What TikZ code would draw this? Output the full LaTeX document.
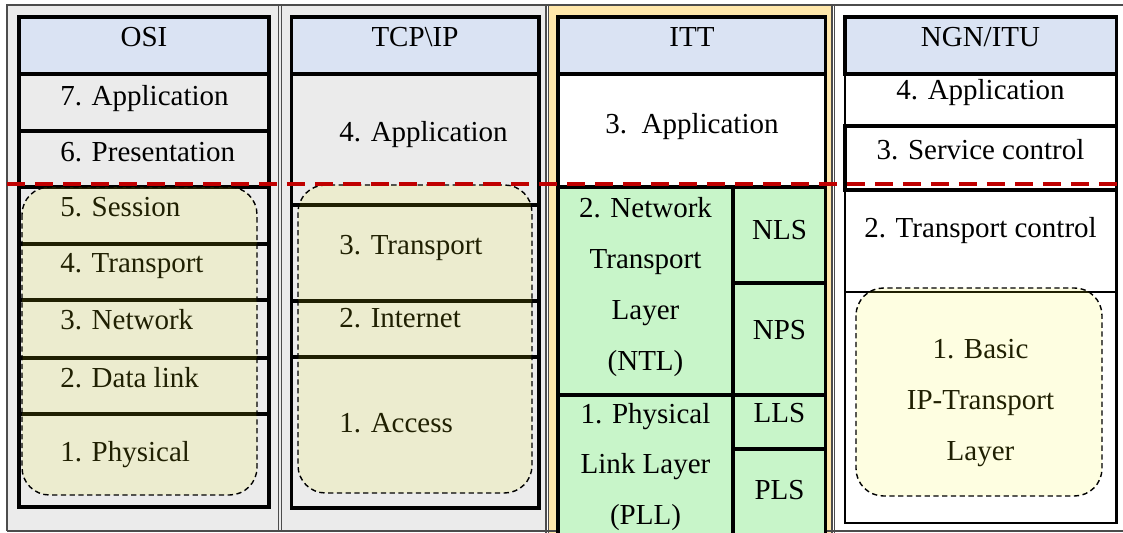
\documentclass[tikz,border=0pt]{standalone}
\usepackage{fontspec}
\setmainfont{Liberation Serif}
\definecolor{headblue}{HTML}{DAE3F3}
\definecolor{colgray}{HTML}{EBEBEB}
\definecolor{colbeige}{HTML}{FFE7AA}
\definecolor{ittgreen}{HTML}{C8F5C9}
\definecolor{layeryellow}{HTML}{FAFA14}
\definecolor{cutred}{HTML}{C00000}
\begin{document}
\begin{tikzpicture}[
                        x=0.02cm, y=-0.02cm,
                        txt/.style={inner sep=0pt, font=\fontsize{16.5}{29}\selectfont},
                        cell/.style={draw=black, line width=2pt},
                        thincell/.style={draw=black, line width=1.2pt},
                        head/.style={cell, fill=headblue},
                        group/.style={draw=black, dash pattern=on 3pt off 2pt, line width=0.8pt, rounded corners=0.55cm, fill=layeryellow, fill opacity=0.13, draw opacity=1},
                        frame/.style={draw=black!70, line width=0.6pt},
                        cut/.style={draw=cutred, line width=2.2pt, dash pattern=on 0.36cm off 0.2cm}
                    ]
                    \useasboundingbox (0,0) rectangle (1123,533);

                    % Columns
                    \fill[colgray] (7,5) rectangle (546,531);
                    \fill[colbeige] (548,5) rectangle (833,533);
                    \draw[frame, line width=1.1pt] (6,5) -- (1123,5);
                    \draw[frame] (7,5) -- (7,531);
                    \draw[frame] (7,531) -- (1123,531);
                    \draw[frame] (278.5,5) -- (278.5,531);
                    \draw[frame] (281.5,5) -- (281.5,531);
                    \draw[frame] (546,5) -- (546,533);
                    \draw[frame] (548.5,5) -- (548.5,533);
                    \draw[frame] (832,5) -- (832,533);
                    \draw[frame] (834.5,5) -- (834.5,533);

                    % OSI
                    \draw[head] (19,17) rectangle (269,74);
                    \draw[cell] (19,74) rectangle (269,131);
                    \draw[cell] (19,131) rectangle (269,187);
                    \draw[cell] (19,187) rectangle (269,244);
                    \draw[cell] (19,244) rectangle (269,300);
                    \draw[cell] (19,300) rectangle (269,358);
                    \draw[cell] (19,358) rectangle (269,414);
                    \draw[cell] (19,414) rectangle (269,507);
                    \node[txt, anchor=base] (osi) at (144,47) {OSI};
                    \node[txt, anchor=base west] (osi7) at (60,106) {7. Application};
                    \node[txt, anchor=base west] (osi6) at (60,162) {6. Presentation};
                    \node[txt, anchor=base west] (osi5) at (60,217) {5. Session};
                    \node[txt, anchor=base west] (osi4) at (60,273) {4. Transport};
                    \node[txt, anchor=base west] (osi3) at (60,330) {3. Network};
                    \node[txt, anchor=base west] (osi2) at (60,388) {2. Data link};
                    \node[txt, anchor=base west] (osi1) at (60,462) {1. Physical};

                    % TCP\IP
                    \draw[head] (291.5,17) rectangle (539,74);
                    \draw[cell] (291.5,74) rectangle (539,205);
                    \draw[cell] (291.5,205) rectangle (539,301);
                    \draw[cell] (291.5,301) rectangle (539,357);
                    \draw[cell] (291.5,357) rectangle (539,508);
                    \node[txt, anchor=base] (tcp) at (415,47) {TCP\textbackslash IP};
                    \node[txt, anchor=base west] (tcp4) at (339,142) {4. Application};
                    \node[txt, anchor=base west] (tcp3) at (339,255) {3. Transport};
                    \node[txt, anchor=base west] (tcp2) at (339,328) {2. Internet};
                    \node[txt, anchor=base west] (tcp1) at (339,433) {1. Access};

                    % ITT
                    \draw[head] (558,17) rectangle (825.5,74);
                    \draw[cell, fill=white] (558,74) rectangle (825.5,187);
                    \draw[cell, fill=ittgreen] (558,187) rectangle (733,395);
                    \draw[cell, fill=ittgreen] (733,187) rectangle (825.5,283);
                    \draw[cell, fill=ittgreen] (733,283) rectangle (825.5,395);
                    \draw[cell, fill=ittgreen] (558,395) rectangle (733,545);
                    \draw[cell, fill=ittgreen] (733,395) rectangle (825.5,449);
                    \draw[cell, fill=ittgreen] (733,449) rectangle (825.5,545);
                    \node[txt, anchor=base] (itt) at (692,47) {ITT};
                    \node[txt, anchor=base] (itt3) at (692,134) {3.\ \ Application};
                    \node[txt, align=center] (ntl) at (645.5,287) {2. Network\\Transport\\Layer\\(NTL)};
                    \node[txt, align=center] (pll) at (645.5,467) {1. Physical\\Link Layer\\(PLL)};
                    \node[txt, anchor=base] (nls) at (779.5,240) {NLS};
                    \node[txt, anchor=base] (nps) at (779.5,340) {NPS};
                    \node[txt, anchor=base] (lls) at (779.5,423) {LLS};
                    \node[txt, anchor=base] (pls) at (779.5,500) {PLS};

                    % NGN/ITU
                    \draw[thincell, line width=1.5pt] (845,16) rectangle (1116.5,523);
                    \draw[head] (845,17) rectangle (1116.5,74);
                    \draw[thincell] (845,74) rectangle (1116.5,126);
                    \draw[cell] (845,126) rectangle (1116.5,190);
                    \draw[thincell] (845,190) rectangle (1116.5,292);
                    \node[txt, anchor=base] (ngn) at (980.5,47) {NGN/ITU};
                    \node[txt, anchor=base] (ngn4) at (980.5,100) {4. Application};
                    \node[txt, anchor=base] (ngn3) at (980.5,160) {3. Service control};
                    \node[txt, anchor=base] (ngn2) at (980.5,238) {2. Transport control};
                    \node[txt, align=center] (ngn1) at (980.5,403) {1. Basic\\IP-Transport\\Layer};

                    % Transport groups
                    \draw[group] (22,187) rectangle (257,495);
                    \draw[group] (298,185) rectangle (532,493);
                    \draw[group] (856,288) rectangle (1102,496);

                    % Cut line
                    \coordinate (cutL) at (7,184);
                    \coordinate (cutR) at (1118,184);
                    \draw[cut] (cutL) -- (cutR);
                \end{tikzpicture}
\end{document}
